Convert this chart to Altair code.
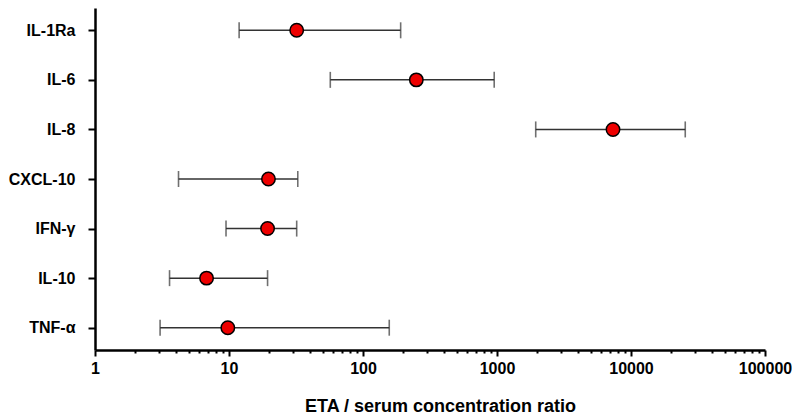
import altair as alt
import pandas as pd

categories = ["IL-1Ra", "IL-6", "IL-8", "CXCL-10", "IFN-γ", "IL-10", "TNF-α"]
median = [32, 250, 7340, 19.7, 19.4, 6.8, 9.8]
low = [11.9, 57, 1945, 4.2, 9.5, 3.6, 3.06]
high = [191, 953, 25400, 32.6, 32, 19.4, 157]

tick_values = [1, 2, 3, 4, 5, 6, 7, 8, 9,
               10, 20, 30, 40, 50, 60, 70, 80, 90,
               100, 200, 300, 400, 500, 600, 700, 800, 900,
               1000, 2000, 3000, 4000, 5000, 6000, 7000, 8000, 9000,
               10000, 20000, 30000, 40000, 50000, 60000, 70000, 80000, 90000,
               100000]
x_domain = [1, 100000]

df = pd.DataFrame({"cat": categories, "med": median, "lo": low, "hi": high})

is_decade = "abs(log(datum.value)/LN10 - round(log(datum.value)/LN10)) < 0.001"

xscale = alt.Scale(type="log", domain=x_domain, nice=False)
yscale = alt.Scale(type="point", domain=categories, padding=0.45)

xaxis = alt.Axis(
    values=tick_values,
    labelExpr=f"({is_decade}) ? datum.label : ''",
    format="d",
    tickSize={"condition": {"test": is_decade, "value": 6}, "value": 3},
    tickWidth=2,
    tickColor="black",
    domainColor="black",
    domainWidth=2.5,
    labelFont="Liberation Sans",
    labelFontSize=16,
    labelFontWeight="bold",
    labelColor="black",
    labelPadding=4,
    labelFlush=False,
    labelOverlap=False,
    grid=False,
    title="ETA / serum concentration ratio",
    titleFont="Liberation Sans",
    titleFontSize=18,
    titleFontWeight="bold",
    titleColor="black",
    titleBaseline="alphabetic",
    titleY=61,
    titleX=345,
)

yaxis = alt.Axis(
    title=None,
    tickSize=7,
    tickWidth=2,
    tickColor="black",
    domainColor="black",
    domainWidth=2.5,
    labelFont="Liberation Sans",
    labelFontSize=16,
    labelFontWeight="bold",
    labelColor="black",
    labelPadding=13,
    grid=False,
)

base = alt.Chart(df)

rules = base.mark_rule(color="#333333", strokeWidth=1.5).encode(
    x=alt.X("lo:Q", scale=xscale, axis=xaxis),
    x2="hi:Q",
    y=alt.Y("cat:N", scale=yscale, axis=yaxis, sort=categories),
)

caps_lo = base.mark_tick(color="#333333", thickness=1.6, size=16, orient="vertical").encode(
    x=alt.X("lo:Q", scale=xscale),
    y=alt.Y("cat:N", scale=yscale, sort=categories),
)
caps_hi = base.mark_tick(color="#333333", thickness=1.6, size=16, orient="vertical").encode(
    x=alt.X("hi:Q", scale=xscale),
    y=alt.Y("cat:N", scale=yscale, sort=categories),
)

points = base.mark_point(filled=True, fill="#ee0000", stroke="black", strokeWidth=1.5,
                         size=180, opacity=1, shape="circle").encode(
    x=alt.X("med:Q", scale=xscale),
    y=alt.Y("cat:N", scale=yscale, sort=categories),
)

chart = alt.layer(rules, caps_lo, caps_hi, points).properties(
    width=670,
    height=342,
    background="white",
    autosize=alt.AutoSizeParams(type="none"),
    padding={"left": 87, "top": 0, "right": 27, "bottom": 66},
).configure_view(strokeWidth=0, stroke="transparent")

chart.save("out.html", embed_options={"renderer": "svg", "actions": False})
